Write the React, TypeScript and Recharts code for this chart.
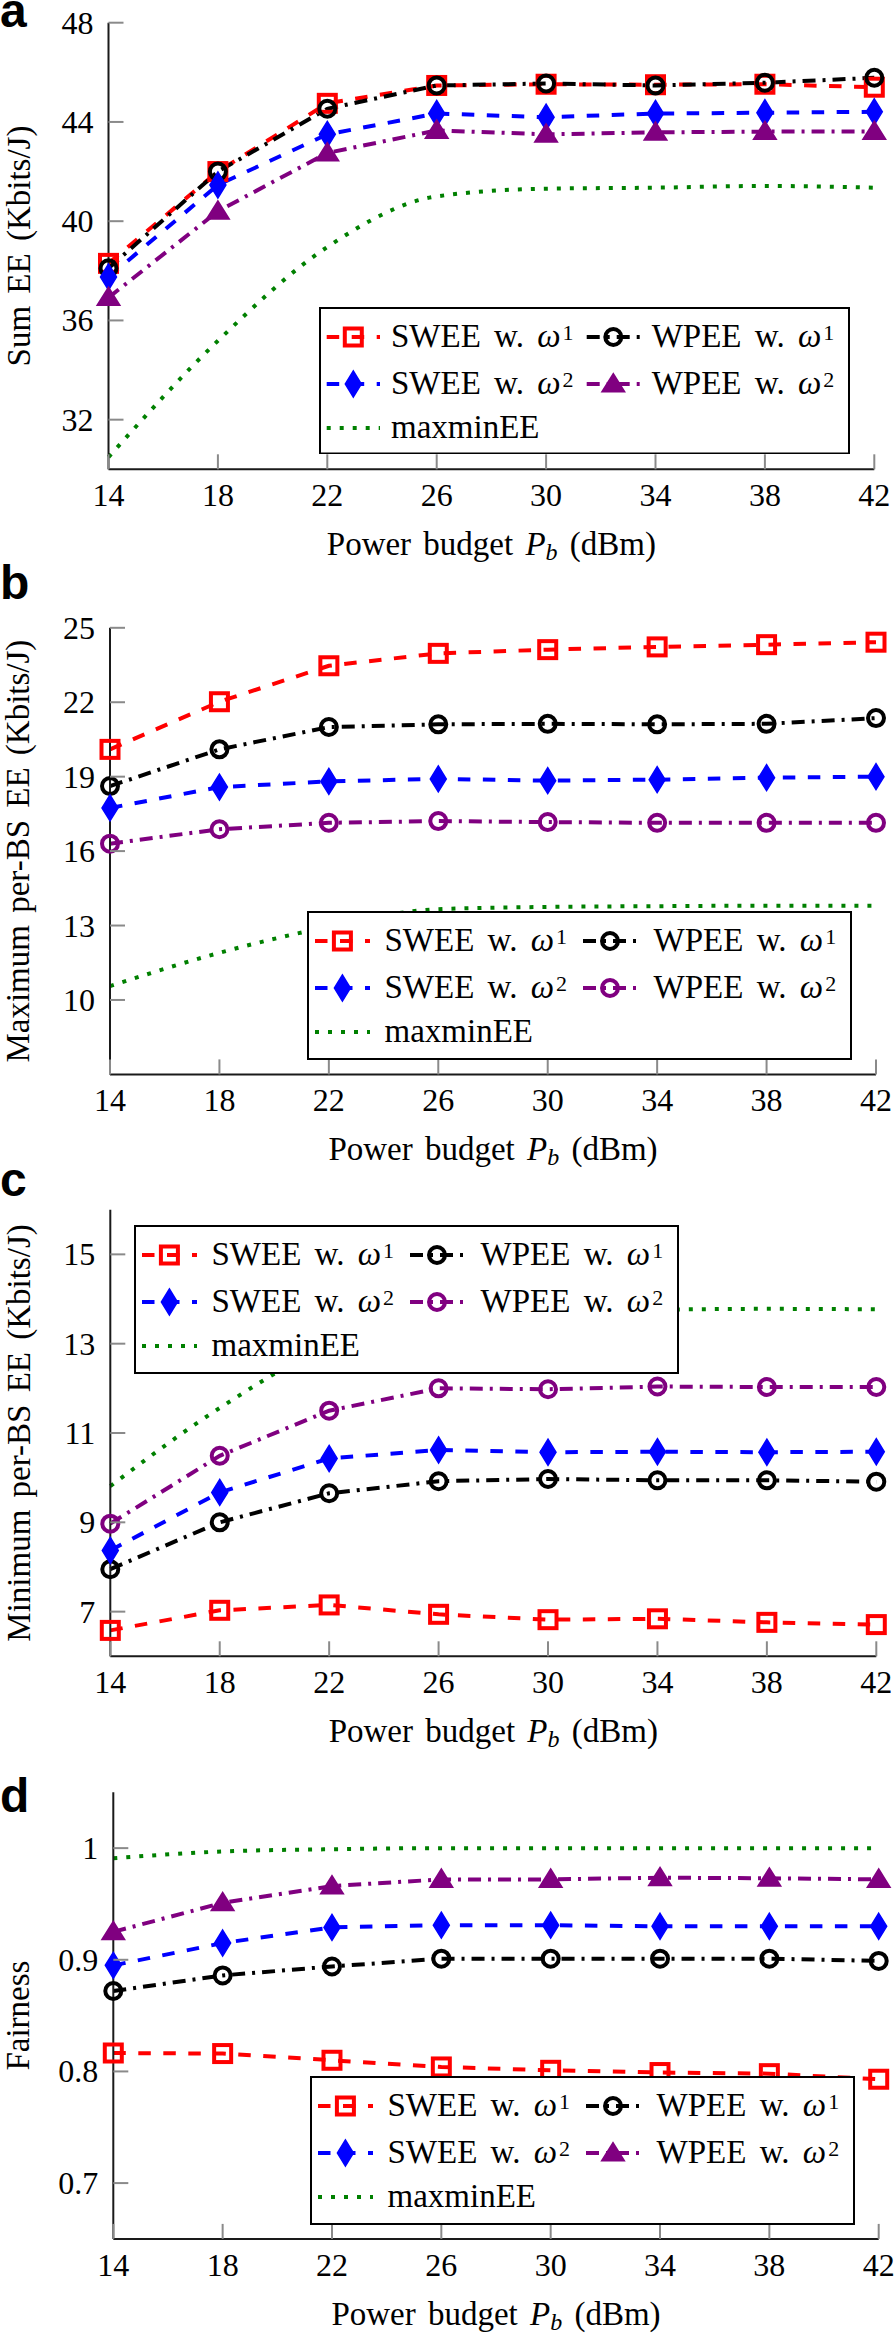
import React from 'react';
import { LineChart, Line, XAxis, YAxis, Legend } from 'recharts';

// x axis: power budget P_b (dBm)
const powerBudget = [14, 18, 22, 26, 30, 34, 38, 42];

// (a) Sum EE (Kbits/J)
const sumSweeW1 = [38.3, 42.0, 44.75, 45.47, 45.52, 45.5, 45.52, 45.4];
const sumWpeeW1 = [38.1, 42.0, 44.53, 45.47, 45.55, 45.47, 45.58, 45.78];
const sumSweeW2 = [37.75, 41.46, 43.5, 44.34, 44.19, 44.34, 44.37, 44.41];
const sumWpeeW2 = [36.92, 40.4, 42.75, 43.66, 43.5, 43.58, 43.61, 43.61];
const sumMaxmin = [30.49, 35.18, 38.96, 41.0, 41.31, 41.35, 41.42, 41.35];
const sumTicks = [32, 36, 40, 44, 48];

// (b) Maximum per-BS EE (Kbits/J)
const maxSweeW1 = [20.1, 22.02, 23.47, 23.97, 24.12, 24.23, 24.32, 24.42];
const maxWpeeW1 = [18.62, 20.1, 21.0, 21.11, 21.13, 21.11, 21.13, 21.36];
const maxSweeW2 = [17.74, 18.58, 18.81, 18.91, 18.84, 18.88, 18.96, 19.0];
const maxWpeeW2 = [16.3, 16.88, 17.14, 17.21, 17.17, 17.14, 17.14, 17.14];
const maxMaxmin = [10.56, 11.9, 12.95, 13.66, 13.75, 13.78, 13.8, 13.8];
const maxTicks = [10, 13, 16, 19, 22, 25];

// (c) Minimum per-BS EE (Kbits/J)
const minSweeW1 = [6.58, 7.03, 7.15, 6.94, 6.82, 6.84, 6.76, 6.71];
const minWpeeW1 = [7.95, 9.0, 9.65, 9.92, 9.97, 9.94, 9.94, 9.91];
const minSweeW2 = [8.37, 9.67, 10.43, 10.62, 10.57, 10.58, 10.57, 10.58];
const minWpeeW2 = [8.97, 10.49, 11.5, 12.0, 11.98, 12.04, 12.03, 12.03];
const minMaxmin = [9.81, 11.56, 12.95, 13.55, 13.72, 13.76, 13.78, 13.77];
const minTicks = [7, 9, 11, 13, 15];

// (d) Fairness
const fairSweeW1 = [0.8165, 0.816, 0.81, 0.804, 0.801, 0.799, 0.798, 0.793];
const fairWpeeW1 = [0.872, 0.886, 0.894, 0.901, 0.901, 0.901, 0.901, 0.899];
const fairSweeW2 = [0.895, 0.915, 0.929, 0.931, 0.931, 0.93, 0.93, 0.93];
const fairWpeeW2 = [0.925, 0.951, 0.966, 0.972, 0.972, 0.9735, 0.973, 0.972];
const fairMaxmin = [0.991, 0.997, 0.999, 1.0, 1.0, 1.0, 1.0, 1.0];
const fairTicks = [0.7, 0.8, 0.9, 1];

const seriesKeys = ['sweeW1', 'wpeeW1', 'sweeW2', 'wpeeW2', 'maxmin'];
const seriesNames = ['SWEE w. ω^1', 'WPEE w. ω^1', 'SWEE w. ω^2', 'WPEE w. ω^2', 'maxminEE'];

const SERIF = '"Liberation Serif", "Times New Roman", serif';
const SANS = '"Liberation Sans", Arial, sans-serif';
const TICK_COLOR = '#8a8a8a';
const FRAME_COLOR = '#1a1a1a';
const TICK_LEN = 15;
const FRAME_H = 446.6;
const TICK_FS = 32;
const TITLE_FS = 33;
const LEG_FS = 33;
const Y_TITLE_X = 29.5;
const X_TITLE_DY = 86;

const DASHED = '12.5 12.5';
const DASHDOT = '13 7 3 7';
const DOTTED = '4 9';

type MarkKind = 'square' | 'circle' | 'diamond' | 'triangle' | 'none';

interface SeriesStyle {
  color: string;
  dash: string;
  mark: MarkKind;
}

const styleFor = (purpleMark: MarkKind): SeriesStyle[] => [
  { color: '#ff0000', dash: DASHED, mark: 'square' },
  { color: '#000000', dash: DASHDOT, mark: 'circle' },
  { color: '#0000ff', dash: DASHED, mark: 'diamond' },
  { color: '#800080', dash: DASHDOT, mark: purpleMark },
  { color: '#008000', dash: DOTTED, mark: 'none' },
];

const Mark = ({ kind, cx, cy, color }: { kind: MarkKind; cx: number; cy: number; color: string }) => {
  if (kind === 'square') {
    return <rect x={cx - 8.5} y={cy - 8.5} width={17} height={17} fill="none" stroke={color} strokeWidth={4} />;
  }
  if (kind === 'circle') {
    return <circle cx={cx} cy={cy} r={8} fill="none" stroke={color} strokeWidth={4} />;
  }
  if (kind === 'diamond') {
    return (
      <polygon
        points={`${cx},${cy - 13} ${cx + 8},${cy} ${cx},${cy + 13} ${cx - 8},${cy}`}
        fill={color}
        stroke={color}
        strokeWidth={1.5}
      />
    );
  }
  if (kind === 'triangle') {
    return (
      <polygon
        points={`${cx},${cy - 9} ${cx + 10},${cy + 7} ${cx - 10},${cy + 7}`}
        fill={color}
        stroke={color}
        strokeWidth={3}
      />
    );
  }
  return null;
};

const LegendLabel = ({ name, x, y }: { name: string; x: number; y: number }) => {
  const [base, sup] = name.split('^');
  if (!sup) {
    return (
      <text x={x} y={y} fontFamily={SERIF} fontSize={LEG_FS} wordSpacing={5}>
        {base}
      </text>
    );
  }
  const pre = base.replace('ω', '');
  return (
    <text x={x} y={y} fontFamily={SERIF} fontSize={LEG_FS} wordSpacing={5}>
      {pre}
      <tspan fontStyle="italic">ω</tspan>
      <tspan fontSize={22} dy={-7} dx={2}>{sup}</tspan>
    </text>
  );
};

interface LegendLayout {
  x: number;
  y: number;
  w: number;
  h: number;
  sample: number[];
  marker: number[];
  text: number[];
  rows: number[];
}

const LegendBox = ({ layout, styles }: { layout: LegendLayout; styles: SeriesStyle[] }) => {
  const slots = [
    [0, 0],
    [1, 0],
    [0, 1],
    [1, 1],
    [0, 2],
  ];
  return (
    <svg width={layout.w} height={layout.h} style={{ display: 'block' }}>
      <rect x={1} y={1} width={layout.w - 2} height={layout.h - 2} fill="#fff" stroke="#000" strokeWidth={2} />
      {slots.map(([col, row], i) => {
        const s = styles[i];
        const cy = layout.rows[row];
        return (
          <g key={i}>
            <line
              x1={layout.sample[col * 2]}
              x2={layout.sample[col * 2 + 1]}
              y1={cy}
              y2={cy}
              stroke={s.color}
              strokeWidth={4}
              strokeDasharray={s.dash}
            />
            <Mark kind={s.mark} cx={layout.marker[col]} cy={cy} color={s.color} />
            <LegendLabel name={seriesNames[i]} x={layout.text[col]} y={cy + 9.5} />
          </g>
        );
      })}
    </svg>
  );
};

const BottomTick = (p: any) => (
  <g>
    <line x1={p.x} x2={p.x} y1={p.y} y2={p.y - TICK_LEN} stroke={TICK_COLOR} strokeWidth={2} />
    <text x={p.x} y={p.y + 37} textAnchor="middle" fontFamily={SERIF} fontSize={TICK_FS} fill="#000">
      {p.payload.value}
    </text>
  </g>
);

const TopTick = (p: any) => (
  <line x1={p.x} x2={p.x} y1={p.y} y2={p.y + TICK_LEN} stroke={TICK_COLOR} strokeWidth={2} />
);

const LeftTick = (p: any) => (
  <g>
    <line x1={p.x} x2={p.x + TICK_LEN} y1={p.y} y2={p.y} stroke={TICK_COLOR} strokeWidth={2} />
    <text x={p.x - 15} y={p.y + 11} textAnchor="end" fontFamily={SERIF} fontSize={TICK_FS} fill="#000">
      {p.payload.value}
    </text>
  </g>
);

const RightTick = (p: any) => (
  <line x1={p.x} x2={p.x - TICK_LEN} y1={p.y} y2={p.y} stroke={TICK_COLOR} strokeWidth={2} />
);

const XTitle = (p: any) => {
  const vb = p.viewBox;
  return (
    <text
      x={vb.x + vb.width / 2}
      y={vb.y + X_TITLE_DY}
      textAnchor="middle"
      fontFamily={SERIF}
      fontSize={TITLE_FS}
      wordSpacing={4}
    >
      {'Power budget '}
      <tspan fontStyle="italic">P</tspan>
      <tspan fontStyle="italic" fontSize={24} dy={5}>b</tspan>
      <tspan dy={-5}>{' (dBm)'}</tspan>
    </text>
  );
};

const makeYTitle = (title: string) => (p: any) => {
  const vb = p.viewBox;
  const cy = vb.y + vb.height / 2;
  return (
    <text
      x={Y_TITLE_X}
      y={cy}
      transform={`rotate(-90 ${Y_TITLE_X} ${cy})`}
      textAnchor="middle"
      fontFamily={SERIF}
      fontSize={TITLE_FS}
      wordSpacing={4}
    >
      {title}
    </text>
  );
};

const legendInnerA = { sample: [7.7, 61, 267.7, 321], marker: [34.3, 294.3], text: [72, 332.7], rows: [30, 77, 121] };
const legendInner = { sample: [8, 63, 276, 331], marker: [35.4, 303], text: [77.5, 346.6], rows: [30, 77, 121] };

interface PanelConfig {
  letter: string;
  letterY: number;
  yTitle: string;
  series: number[][];
  yDomain: [number, number];
  yTicks: number[];
  purpleMark: MarkKind;
  top: number;
  height: number;
  frameTop: number;
  frameLeft: number;
  frameRight: number;
  legend: LegendLayout;
}

const panels: PanelConfig[] = [
  {
    letter: 'a',
    letterY: 27,
    yTitle: 'Sum EE (Kbits/J)',
    series: [sumSweeW1, sumWpeeW1, sumSweeW2, sumWpeeW2, sumMaxmin],
    yDomain: [30, 48],
    yTicks: sumTicks,
    purpleMark: 'triangle',
    top: 0,
    height: 600,
    frameTop: 22.7,
    frameLeft: 108.5,
    frameRight: 874.3,
    legend: { x: 319, y: 306.7, w: 531, h: 147.5, ...legendInnerA },
  },
  {
    letter: 'b',
    letterY: 599,
    yTitle: 'Maximum per-BS EE (Kbits/J)',
    series: [maxSweeW1, maxWpeeW1, maxSweeW2, maxWpeeW2, maxMaxmin],
    yDomain: [7, 25],
    yTicks: maxTicks,
    purpleMark: 'circle',
    top: 580,
    height: 610,
    frameTop: 627.8,
    frameLeft: 110,
    frameRight: 876,
    legend: { x: 307, y: 911, w: 545, h: 149, ...legendInner },
  },
  {
    letter: 'c',
    letterY: 1196,
    yTitle: 'Minimum per-BS EE (Kbits/J)',
    series: [minSweeW1, minWpeeW1, minSweeW2, minWpeeW2, minMaxmin],
    yDomain: [6, 16],
    yTicks: minTicks,
    purpleMark: 'circle',
    top: 1160,
    height: 610,
    frameTop: 1209.7,
    frameLeft: 110.3,
    frameRight: 876.3,
    legend: { x: 134, y: 1224.7, w: 545, h: 149, ...legendInner },
  },
  {
    letter: 'd',
    letterY: 1812,
    yTitle: 'Fairness',
    series: [fairSweeW1, fairWpeeW1, fairSweeW2, fairWpeeW2, fairMaxmin],
    yDomain: [0.65, 1.05],
    yTicks: fairTicks,
    purpleMark: 'triangle',
    top: 1740,
    height: 595,
    frameTop: 1792.3,
    frameLeft: 113.3,
    frameRight: 878.7,
    legend: { x: 310, y: 2076, w: 545, h: 149, ...legendInner },
  },
];

const Panel = ({ cfg }: { cfg: PanelConfig }) => {
  const styles = styleFor(cfg.purpleMark);
  const rows = powerBudget.map((x, i) => {
    const r: Record<string, number> = { x };
    seriesKeys.forEach((k, j) => {
      r[k] = cfg.series[j][i];
    });
    return r;
  });
  const mt = cfg.frameTop - cfg.top;
  const xAxisH = cfg.height - mt - FRAME_H;
  const frameLine = { stroke: FRAME_COLOR, strokeWidth: 2 };
  const L = cfg.legend;

  return (
    <div style={{ position: 'absolute', left: 0, top: cfg.top, width: 895, height: cfg.height }}>
      <LineChart
        width={895}
        height={cfg.height}
        data={rows}
        margin={{ top: mt, right: 895 - cfg.frameRight, bottom: 0, left: 0 }}
      >
        <XAxis
          dataKey="x"
          type="number"
          domain={[14, 42]}
          ticks={powerBudget}
          interval={0}
          height={xAxisH}
          tickSize={0}
          tickMargin={0}
          tickLine={false}
          axisLine={frameLine}
          tick={BottomTick}
          label={XTitle}
        />
        <XAxis
          xAxisId="top"
          orientation="top"
          dataKey="x"
          type="number"
          domain={[14, 42]}
          allowDataOverflow
          ticks={powerBudget}
          interval={0}
          height={0}
          tickSize={0}
          tickMargin={0}
          tickLine={false}
          axisLine={frameLine}
          tick={TopTick}
        />
        <YAxis
          type="number"
          domain={cfg.yDomain}
          ticks={cfg.yTicks}
          interval={0}
          width={cfg.frameLeft}
          tickSize={0}
          tickMargin={0}
          tickLine={false}
          axisLine={frameLine}
          tick={LeftTick}
          label={makeYTitle(cfg.yTitle)}
        />
        <YAxis
          yAxisId="right"
          orientation="right"
          type="number"
          domain={cfg.yDomain}
          allowDataOverflow
          ticks={cfg.yTicks}
          interval={0}
          width={0}
          tickSize={0}
          tickMargin={0}
          tickLine={false}
          axisLine={frameLine}
          tick={RightTick}
        />
        {seriesKeys.map((k, j) => {
          const s = styles[j];
          return (
            <Line
              key={k}
              dataKey={k}
              name={seriesNames[j]}
              type={s.mark === 'none' ? 'monotone' : 'linear'}
              stroke={s.color}
              strokeWidth={4}
              strokeDasharray={s.dash}
              isAnimationActive={false}
              activeDot={false}
              dot={
                s.mark === 'none'
                  ? false
                  : (p: any) => <Mark key={`${k}-${p.index}`} kind={s.mark} cx={p.cx} cy={p.cy} color={s.color} />
              }
            />
          );
        })}
        <Legend
          layout="vertical"
          align="center"
          verticalAlign="middle"
          wrapperStyle={{ left: L.x, top: L.y - cfg.top, width: L.w, height: L.h, margin: 0, padding: 0 }}
          content={() => <LegendBox layout={L} styles={styles} />}
        />
      </LineChart>
    </div>
  );
};

const App: React.FC = () => (
  <div style={{ position: 'absolute', left: 0, top: 0, width: 895, height: 2335, background: '#fff' }}>
    {panels.map((p) => (
      <Panel key={p.letter} cfg={p} />
    ))}
    <svg width={895} height={2335} style={{ position: 'absolute', left: 0, top: 0, pointerEvents: 'none' }}>
      {panels.map((p) => (
        <text key={p.letter} x={0} y={p.letterY} fontFamily={SANS} fontWeight="bold" fontSize={48} fill="#000">
          {p.letter}
        </text>
      ))}
    </svg>
  </div>
);

export default App;
